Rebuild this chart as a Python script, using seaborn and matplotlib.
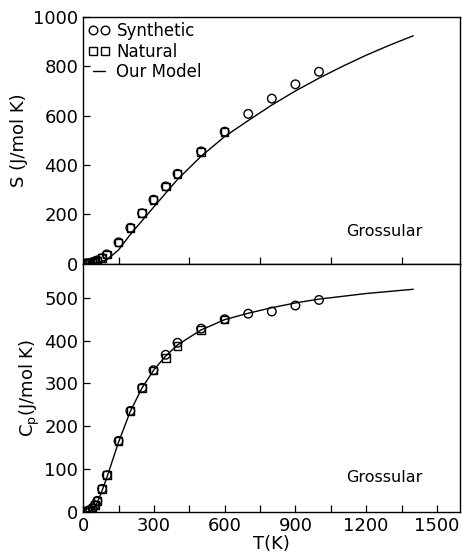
import numpy as np
import pandas as pd
import matplotlib
matplotlib.use("Agg")
import matplotlib.pyplot as plt
from matplotlib.lines import Line2D
import seaborn as sns

T_syn = [10, 20, 30, 40, 50, 60, 80, 100, 150, 200, 250, 298, 350, 400, 500, 600, 700, 800, 900, 1000]
S_syn = [0.3, 1, 3, 5, 9, 13, 22, 37, 86, 145, 204, 259, 313, 364, 455, 535, 607, 669, 727, 778]
Cp_syn = [0.5, 2, 5, 9, 16, 26, 54, 86, 166, 236, 290, 331, 367, 395, 428, 450, 463, 468, 482, 495]

T_nat = [10, 20, 30, 40, 50, 60, 80, 100, 150, 200, 250, 298, 350, 400, 500, 600]
S_nat = [0.3, 1, 3, 5, 9, 13, 22, 37, 86, 145, 204, 258, 312, 362, 453, 533]
Cp_nat = [0.5, 2, 5, 9, 16, 26, 54, 86, 166, 236, 290, 330, 360, 388, 425, 449]

# Model curves
T_mod_S = [0, 50, 100, 150, 200, 250, 300, 400, 500, 600, 700, 800, 900, 1000, 1100, 1200, 1300, 1400]
S_mod = [0, 2, 15, 55, 118, 174, 230, 341, 435, 515, 580, 643, 700, 752, 800, 845, 886, 924]
T_mod_Cp = [0, 25, 50, 75, 100, 150, 200, 250, 300, 350, 400, 500, 600, 700, 800, 900, 1000, 1200, 1400]
Cp_mod = [0, 1, 10, 42, 80, 163, 235, 290, 332, 364, 390, 425, 449, 464, 477, 488, 497, 510, 520]

x_ticks = [0, 300, 600, 900, 1200, 1500]

sns.set_style("ticks")
plt.rcParams['font.family'] = ['DejaVu Sans']
plt.rcParams.update({'text.color': 'black', 'axes.labelcolor': 'black',
                     'xtick.color': 'black', 'ytick.color': 'black',
                     'axes.edgecolor': 'black'})

fig = plt.figure(figsize=(4.62, 5.56), dpi=100)
ax1 = fig.add_axes([0.180, 0.526, 0.8167, 0.4434])
ax2 = fig.add_axes([0.180, 0.0791, 0.8167, 0.4469], sharex=ax1)

syn = pd.DataFrame({'T': T_syn, 'S': S_syn, 'Cp': Cp_syn})
nat = pd.DataFrame({'T': T_nat, 'S': S_nat, 'Cp': Cp_nat})
mod_s = pd.DataFrame({'T': T_mod_S, 'S': S_mod})
mod_cp = pd.DataFrame({'T': T_mod_Cp, 'Cp': Cp_mod})

for ax, col, mod in [(ax1, 'S', mod_s), (ax2, 'Cp', mod_cp)]:
    sns.lineplot(data=mod, x='T', y=col, ax=ax, color='black', lw=1.0, estimator=None)
    sns.scatterplot(data=nat, x='T', y=col, ax=ax, marker='s', s=30,
                    facecolor='none', edgecolor='black', linewidth=1.0)
    sns.scatterplot(data=syn, x='T', y=col, ax=ax, marker='o', s=38,
                    facecolor='none', edgecolor='black', linewidth=1.0)
    ax.text(0.698, 0.13 if ax is ax1 else 0.14, 'Grossular', transform=ax.transAxes,
            fontsize=11.5, va='center', ha='left')
    ax.tick_params(direction='in', length=5, width=0.9, labelsize=13)
    ax.tick_params(which='minor', direction='in', length=5, width=0.9)
    for sp in ax.spines.values():
        sp.set_linewidth(1.0)
        sp.set_visible(True)

ax1.set_xlim(0, 1600)
ax1.set_ylim(0, 1000)
ax1.set_yticks([0, 200, 400, 600, 800, 1000])
ax1.tick_params(axis='x', bottom=False, labelbottom=False)
ax1.set_xlabel('')
ax1.set_ylabel('S (J/mol K)', fontsize=13)

ax2.set_ylim(0, 580)
ax2.set_yticks([0, 100, 200, 300, 400, 500])
ax2.set_xticks(x_ticks)
ax2.set_xticks([150, 450, 750, 1050, 1350], minor=True)
ax2.set_xlabel('T(K)', fontsize=13, labelpad=0)
ax2.set_ylabel(r'C$_\mathregular{p}$(J/mol K)', fontsize=13, labelpad=2)

handles = [
    Line2D([], [], marker='o', ls='none', mfc='none', mec='black', ms=6.2, mew=1.0),
    Line2D([], [], marker='s', ls='none', mfc='none', mec='black', ms=5.5, mew=1.0),
    Line2D([], [], color='black', lw=1.0),
]
ax1.legend(handles, ['Synthetic', 'Natural', 'Our Model'], loc='upper left',
           frameon=False, numpoints=2, fontsize=12, handlelength=1.3,
           handletextpad=0.4, labelspacing=0.15, borderaxespad=0.2,
           borderpad=0.1)

fig.savefig('out.png', dpi=100)
